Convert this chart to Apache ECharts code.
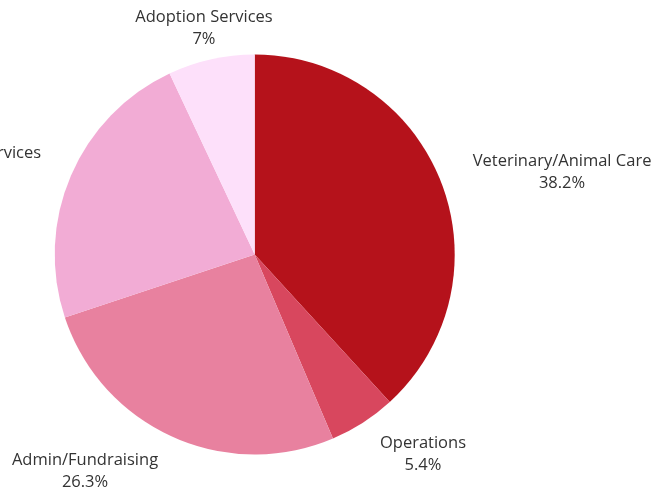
<!DOCTYPE html>
<html>
<head>
<meta charset="utf-8">
<script src="https://cdn.jsdelivr.net/npm/echarts@6/dist/echarts.min.js"></script>
<style>
html,body{margin:0;padding:0;background:#fff;}
#chart{width:668px;height:489px;}
</style>
</head>
<body>
<div id="chart"></div>
<script>
var categories = ['Veterinary/Animal Care', 'Operations', 'Admin/Fundraising', 'Community Services', 'Adoption Services'];
var values = [38.2, 5.4, 26.3, 23.1, 7];
var colors = ['#b5121b', '#d8475e', '#e8819f', '#f2acd5', '#fde0fa'];
// label placement tuning (label line lengths, lines hidden)
var lineLen1 = [30.4, 35.4, 35.9, 32.1, 33.1];
var lineLen2 = [-12.4, -64.1, -32.4, -26.6, -105.1];

var chart = echarts.init(document.getElementById('chart'), null, {renderer: 'canvas'});
var data = categories.map(function (c, i) {
  return {
    name: c,
    value: values[i],
    itemStyle: {color: colors[i]},
    labelLine: {show: false, length: lineLen1[i], length2: lineLen2[i]}
  };
});
chart.setOption({
  animation: false,
  backgroundColor: '#ffffff',
  series: [{
    type: 'pie',
    center: [254.7, 254.5],
    radius: [0, 200],
    startAngle: 90,
    clockwise: true,
    avoidLabelOverlap: false,
    itemStyle: {borderWidth: 0},
    label: {
      show: true,
      position: 'outside',
      width: 200,
      overflow: 'none',
      padding: [3, 0, 0, 0],
      distanceToLabelLine: 5,
      formatter: '{n|{b}}\n{p|{c}%}',
      rich: {
        n: {align: 'center', fontFamily: 'Open Sans', fontSize: 16.5, color: '#333333', lineHeight: 22},
        p: {align: 'center', fontFamily: 'Open Sans', fontSize: 16.5, color: '#333333', lineHeight: 22}
      }
    },
    labelLine: {show: false},
    emphasis: {disabled: true},
    data: data
  }]
});
</script>
</body>
</html>
